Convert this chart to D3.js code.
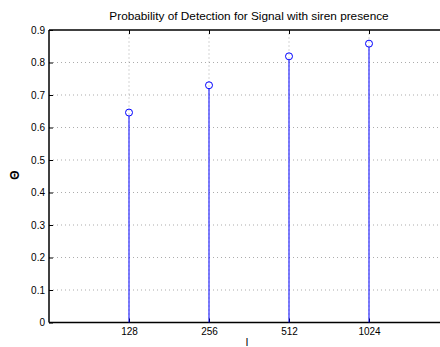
<!DOCTYPE html>
<html><head><meta charset="utf-8">
<script src="https://cdn.jsdelivr.net/npm/d3@7"></script>
<style>body{margin:0;background:#fff}svg{display:block}text{font-family:"Liberation Sans",Arial,sans-serif;fill:#000}</style>
</head><body>
<svg id="c" width="440" height="347"></svg>
<script>
const categories = ["128","256","512","1024"];
const values = [0.646, 0.730, 0.819, 0.858];
const yTicks = [0,0.1,0.2,0.3,0.4,0.5,0.6,0.7,0.8,0.9];

const svg = d3.select("#c");
const L = 49, R = 449, T = 30, B = 322.5;
const x = d3.scaleLinear().domain([0,5]).range([L,R]);
const y = d3.scaleLinear().domain([0,0.9]).range([B,T]);

// grid
const g = svg.append("g");
g.selectAll("line.hg").data(yTicks.slice(1,-1)).join("line")
  .attr("x1",L).attr("x2",R).attr("y1",d=>y(d)).attr("y2",d=>y(d))
  .attr("stroke","#888").attr("stroke-width",0.7).attr("stroke-dasharray","1,3");
g.selectAll("line.vg").data(categories).join("line")
  .attr("x1",(d,i)=>x(i+1)).attr("x2",(d,i)=>x(i+1)).attr("y1",B).attr("y2",T)
  .attr("stroke","#888").attr("stroke-width",0.7).attr("stroke-dasharray","1,3");

// axes
const yAxis = d3.axisLeft(y).tickValues(yTicks).tickSize(-4).tickPadding(4).tickFormat(d=>d===0?"0":d3.format(".1f")(d));
const ya = svg.append("g").attr("transform",`translate(${L},0)`).call(yAxis);
const xAxis = d3.axisBottom(x).tickValues([1,2,3,4]).tickSize(-4).tickPadding(5).tickFormat(d=>categories[d-1]);
const xa = svg.append("g").attr("transform",`translate(0,${B})`).call(xAxis);
// top ticks
const xt = svg.append("g").attr("transform",`translate(0,${T})`).call(d3.axisTop(x).tickValues([1,2,3,4]).tickSize(-4).tickFormat(""));
[ya,xa,xt].forEach(a=>{a.selectAll("text").style("font-size","10px").style("font-family","Liberation Sans, Arial, sans-serif");
  a.selectAll("line").attr("stroke","#000"); a.select(".domain").remove();});
svg.append("line").attr("x1",L).attr("x2",R).attr("y1",B).attr("y2",B).attr("stroke","#000").attr("stroke-width",1.5);
svg.append("line").attr("x1",L).attr("x2",R).attr("y1",T).attr("y2",T).attr("stroke","#000").attr("stroke-width",1.5);
svg.append("line").attr("x1",L).attr("x2",L).attr("y1",T).attr("y2",B).attr("stroke","#000").attr("stroke-width",1.5);

// stems
svg.selectAll("line.stem").data(values).join("line")
  .attr("x1",(d,i)=>x(i+1)).attr("x2",(d,i)=>x(i+1)).attr("y1",y(0)).attr("y2",d=>y(d)+3.5)
  .attr("stroke","#0000ff").attr("stroke-width",1);
svg.selectAll("circle.pt").data(values).join("circle")
  .attr("cx",(d,i)=>x(i+1)).attr("cy",d=>y(d)).attr("r",3.5)
  .attr("fill","none").attr("stroke","#0000ff").attr("stroke-width",1);

// labels
svg.append("text").attr("x",249).attr("y",20).attr("text-anchor","middle").style("font-size","11.8px")
  .text("Probability of Detection for Signal with siren presence");
svg.append("text").attr("x",247).attr("y",346).attr("text-anchor","middle").style("font-size","11px").text("l");
svg.append("text").attr("transform","translate(19,175) rotate(-90)").attr("text-anchor","middle").style("font-size","12px").style("font-weight","bold").text("Θ");
</script>
</body></html>
